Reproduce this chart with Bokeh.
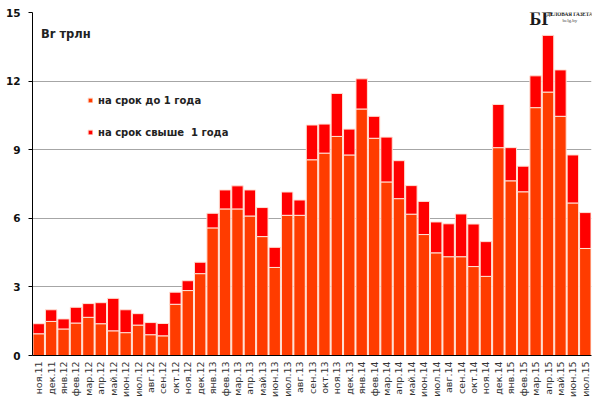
from bokeh.plotting import figure
from bokeh.models import (FactorRange, Range1d, FixedTicker, Legend, LegendItem, Label,
                          ColumnDataSource, BoxAnnotation)
from bokeh.embed import file_html
from bokeh.resources import INLINE
import math

months = ["ноя.11", "дек.11", "янв.12", "фев.12", "мар.12", "апр.12", "май.12", "июн.12",
          "июл.12", "авг.12", "сен.12", "окт.12", "ноя.12", "дек.12", "янв.13", "фев.13",
          "мар.13", "апр.13", "май.13", "июн.13", "июл.13", "авг.13", "сен.13", "окт.13",
          "ноя.13", "дек.13", "янв.14", "фев.14", "мар.14", "апр.14", "май.14", "июн.14",
          "июл.14", "авг.14", "сен.14", "окт.14", "ноя.14", "дек.14", "янв.15", "фев.15",
          "мар.15", "апр.15", "май.15", "июн.15", "июл.15"]

# на срок до 1 года (нижняя часть)
short_term = [0.95, 1.49, 1.16, 1.42, 1.67, 1.39, 1.08, 1.00, 1.33, 0.91, 0.86, 2.24, 2.84,
              3.58, 5.58, 6.41, 6.41, 6.10, 5.20, 3.85, 6.13, 6.13, 8.56, 8.85, 9.58, 8.77,
              10.78, 9.50, 7.59, 6.86, 6.18, 5.29, 4.49, 4.32, 4.32, 3.89, 3.46, 9.09, 7.64,
              7.16, 10.84, 11.52, 10.46, 6.67, 4.68]

# на срок свыше 1 года (верхняя часть)
long_term = [0.44, 0.51, 0.44, 0.69, 0.60, 0.92, 1.42, 1.00, 0.50, 0.53, 0.54, 0.53, 0.43,
             0.50, 0.64, 0.83, 1.01, 1.14, 1.27, 0.88, 1.02, 0.67, 1.52, 1.27, 1.88, 1.13,
             1.32, 0.96, 1.96, 1.66, 1.25, 1.45, 1.35, 1.44, 1.87, 1.86, 1.52, 1.89, 1.45,
             1.12, 1.39, 2.48, 2.03, 2.10, 1.57]

y_ticks = [0, 3, 6, 9, 12, 15]
series_names = ["на срок до 1 года", "на срок свыше  1 года"]
colors = ["#FF3C00", "#FF0000"]

source = ColumnDataSource(dict(month=months, short=short_term, long=long_term))

p = figure(width=600, height=403, x_range=FactorRange(factors=months, range_padding=0),
           y_range=Range1d(0, 15), output_backend="svg", toolbar_location=None,
           min_border_left=32, min_border_right=9, min_border_top=12, min_border_bottom=48)
p.outline_line_color = None
p.background_fill_color = "white"
p.border_fill_color = "white"
p.styles = {"outline": "1.5px solid #A8A8A8", "outline-offset": "-2px"}

rs = p.vbar_stack(["short", "long"], x="month", width=0.92, color=colors,
                  line_color="#FFE2D6", line_width=1, source=source)

p.xgrid.grid_line_color = None
p.ygrid.grid_line_color = "#A6A6A6"
p.ygrid.grid_line_width = 1
p.yaxis.ticker = FixedTicker(ticks=y_ticks)
p.yaxis.axis_line_color = "black"
p.yaxis.major_tick_line_color = "black"
p.yaxis.major_tick_out = 4
p.yaxis.major_tick_in = 0
p.yaxis.minor_tick_line_color = None
p.yaxis.major_label_text_font = "DejaVu Sans"
p.yaxis.major_label_text_font_style = "bold"
p.yaxis.major_label_text_font_size = "10.5px"
p.yaxis.major_label_text_color = "#111111"
p.yaxis.major_label_standoff = 8

p.xaxis.axis_line_color = "black"
p.xaxis.major_tick_line_color = None
p.xaxis.major_tick_out = 0
p.xaxis.major_tick_in = 0
p.xaxis.minor_tick_line_color = None
p.xaxis.major_label_orientation = math.pi / 2
p.xaxis.major_label_text_font = "DejaVu Sans"
p.xaxis.major_label_text_font_size = "9.5px"
p.xaxis.major_label_text_color = "#333333"
p.xaxis.major_label_standoff = 6

legend = Legend(items=[LegendItem(label=series_names[0], renderers=[rs[0]]),
                       LegendItem(label=series_names[1], renderers=[rs[1]])],
                location=(55, 216), orientation="vertical",
                glyph_width=6, glyph_height=6, label_height=14, spacing=18,
                padding=0, margin=0, label_standoff=5,
                label_text_font="DejaVu Sans", label_text_font_style="bold",
                label_text_font_size="10px", label_text_color="#222222",
                border_line_color=None, background_fill_alpha=0)
p.add_layout(legend)

p.add_layout(Label(x=8.5, y=322, x_units="screen", y_units="screen", text="Br трлн",
                   text_font="DejaVu Sans", text_font_style="bold", text_font_size="11.5px",
                   text_color="#222222", text_baseline="alphabetic"))

# logo area (white patch over the top grid line)
p.add_layout(BoxAnnotation(left=496, right=562, top=354, bottom=334,
                           left_units="screen", right_units="screen",
                           top_units="screen", bottom_units="screen",
                           fill_color="white", fill_alpha=1, line_color=None))
p.add_layout(Label(x=497, y=337, x_units="screen", y_units="screen", text="БГ",
                   text_font="Liberation Serif", text_font_style="bold", text_font_size="18px",
                   text_color="#1a1a1a", text_baseline="alphabetic"))
p.add_layout(Label(x=514, y=342, x_units="screen", y_units="screen", text="ДЕЛОВАЯ ГАЗЕТА",
                   text_font="Liberation Serif", text_font_style="bold", text_font_size="5.2px",
                   text_color="#1a1a1a", text_baseline="alphabetic"))
p.add_layout(Label(x=530, y=335, x_units="screen", y_units="screen", text="belg.by",
                   text_font="Liberation Serif", text_font_size="5px",
                   text_color="#444444", text_baseline="alphabetic"))

open("out.html", "w").write(file_html(p, INLINE))
